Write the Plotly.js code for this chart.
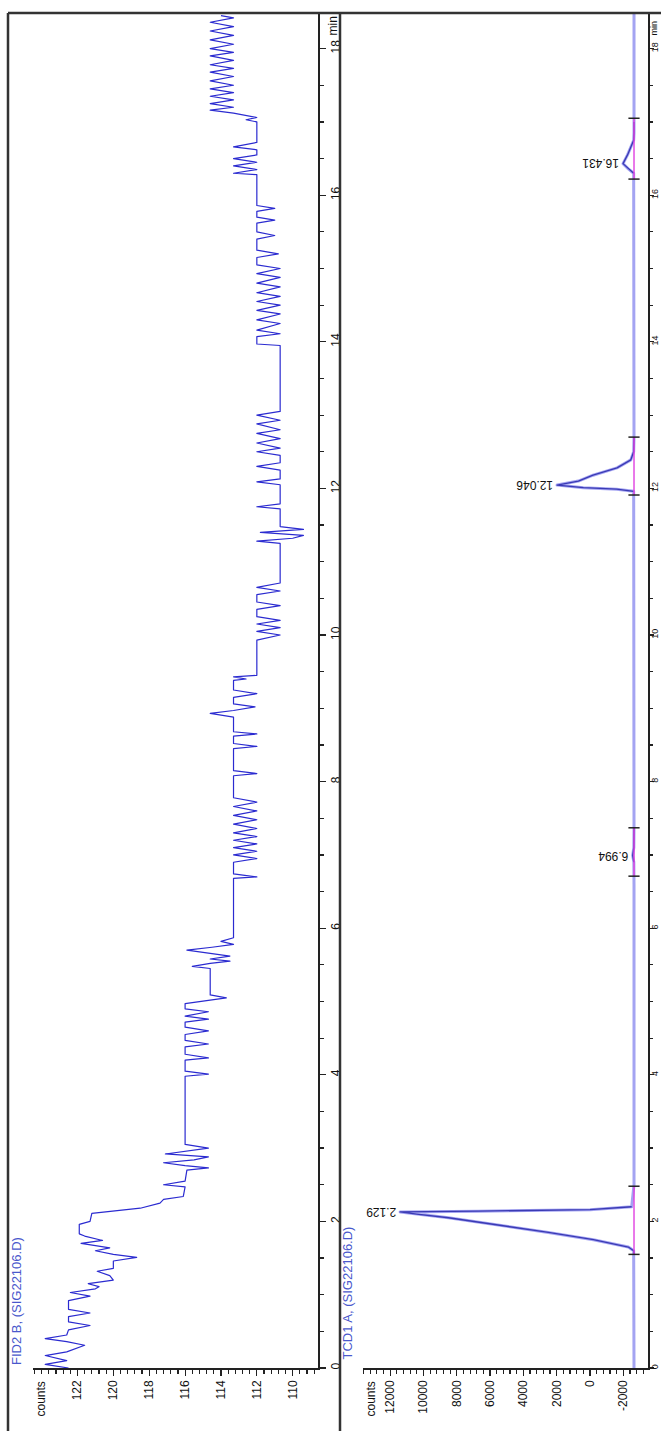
<!DOCTYPE html>
<html>
<head>
<meta charset="utf-8">
<script src="https://cdn.plot.ly/plotly-3.0.1.min.js"></script>
<style>html,body{margin:0;padding:0;background:#fff;}#chart{width:661px;height:1431px;}
#chart path.js-line{stroke-linejoin:round !important;}</style>
</head>
<body>
<div id="chart"></div>
<script>
// ---------- DATA ----------
const fidTitle = "FID2 B, (SIG22106.D)";
const tcdTitle = "TCD1 A, (SIG22106.D)";
const timeTickVals = [0, 2, 4, 6, 8, 10, 12, 14, 16, 18];
const timeTickText = ["0", "2", "4", "6", "8", "10", "12", "14", "16", "18"];
const fidTickVals = [110, 112, 114, 116, 118, 120, 122];
const fidTickText = ["110", "112", "114", "116", "118", "120", "122"];
const tcdTickVals = [-2000, 0, 2000, 4000, 6000, 8000, 10000, 12000];
const tcdTickText = ["-2000", "0", "2000", "4000", "6000", "8000", "10000", "12000"];

const fidTime = [0.00,0.05,0.10,0.17,0.22,0.31,0.36,0.40,0.45,0.52,0.58,0.63,0.70,0.75,0.80,0.92,0.98,1.03,1.08,1.11,1.15,1.20,1.26,1.32,1.36,1.46,1.51,1.55,1.60,1.64,1.70,1.74,1.80,1.83,1.96,2.00,2.11,2.18,2.25,2.30,2.34,2.47,2.50,2.55,2.70,2.73,2.76,2.80,2.84,2.88,2.92,2.96,3.00,3.05,3.98,4.01,4.05,4.20,4.23,4.28,4.38,4.42,4.47,4.55,4.60,4.65,4.72,4.76,4.80,4.86,4.90,4.97,5.01,5.05,5.09,5.45,5.48,5.52,5.55,5.58,5.62,5.66,5.70,5.74,5.78,5.82,5.87,6.68,6.70,6.74,6.90,6.95,7.00,7.05,7.10,7.15,7.20,7.25,7.30,7.36,7.42,7.48,7.54,7.60,7.66,7.72,7.78,8.08,8.11,8.15,8.45,8.48,8.52,8.62,8.65,8.68,8.88,8.93,8.97,9.02,9.06,9.15,9.20,9.25,9.38,9.40,9.43,9.45,9.93,10.00,10.05,10.10,10.15,10.20,10.25,10.35,10.40,10.45,10.55,10.60,10.65,10.71,11.25,11.28,11.32,11.36,11.40,11.44,11.48,11.72,11.75,11.79,12.05,12.09,12.13,12.25,12.30,12.35,12.45,12.50,12.55,12.62,12.68,12.75,12.80,12.88,12.93,13.00,13.05,13.95,13.97,14.07,14.11,14.16,14.25,14.30,14.38,14.43,14.50,14.55,14.62,14.67,14.75,14.80,14.88,14.93,15.00,15.05,15.15,15.20,15.25,15.40,15.45,15.50,15.62,15.66,15.70,15.78,15.82,15.86,16.28,16.30,16.35,16.40,16.45,16.50,16.55,16.62,16.66,16.72,17.00,17.03,17.06,17.12,17.16,17.20,17.25,17.30,17.35,17.40,17.45,17.50,17.56,17.62,17.68,17.73,17.78,17.84,17.90,17.95,18.00,18.06,18.12,18.18,18.24,18.30,18.36,18.42,18.45];
const fidCounts = [122.5,123.8,122.6,123.8,122.6,121.6,122.6,123.8,122.6,122.5,121.3,122.5,122.5,121.3,122.5,122.5,121.3,122.4,121.0,120.8,121.4,120.0,120.2,120.9,120.0,120.0,118.7,120.0,121.0,120.2,121.8,120.6,121.6,121.9,121.9,121.3,121.2,118.5,117.4,117.2,116.1,116.0,117.2,116.0,115.9,114.7,116.0,117.2,115.5,114.7,117.1,116.0,114.7,116.0,116.0,114.7,116.0,116.0,114.7,116.0,116.0,114.7,116.0,116.0,114.7,116.0,116.0,114.7,116.0,114.7,116.0,116.0,114.7,113.7,114.6,114.6,115.6,114.6,113.5,114.6,113.5,114.6,115.9,114.5,113.3,114.0,113.3,113.3,112.0,113.3,113.3,112.0,113.3,112.0,113.3,112.0,113.3,112.0,113.3,112.0,113.3,112.0,113.3,112.0,113.3,112.0,113.3,113.3,112.0,113.3,113.3,112.0,113.3,113.3,112.0,113.3,113.3,114.6,113.3,112.1,113.3,113.3,112.0,113.3,113.3,112.6,113.3,112.0,112.0,110.7,112.0,110.7,112.0,110.7,112.0,112.0,110.7,112.0,112.0,110.7,112.0,110.7,110.7,112.0,110.0,109.4,111.8,109.4,110.7,110.7,112.0,110.7,110.7,112.0,110.7,110.7,112.0,110.7,110.7,112.0,110.7,112.0,110.7,112.0,110.7,112.0,110.7,112.0,110.7,110.7,112.0,112.0,110.7,112.0,110.7,112.0,110.7,112.0,110.7,112.0,110.7,112.0,110.7,112.0,110.7,112.0,110.7,112.0,112.0,110.8,112.0,112.0,111.0,112.0,112.0,111.0,112.0,112.0,111.0,112.0,112.0,113.3,112.0,113.3,112.0,113.3,112.0,112.0,113.3,112.0,112.0,112.6,112.0,113.3,114.6,113.3,114.6,113.3,114.6,113.3,114.6,113.3,114.6,113.3,114.6,113.3,114.6,113.3,114.6,113.3,114.6,113.3,114.6,113.3,114.6,113.3,114.6,113.3,114.0];

const tcdTime = [0,1.55,1.60,1.65,1.75,1.85,1.95,2.05,2.10,2.129,2.14,2.16,2.20,2.50,6.60,6.90,6.994,7.10,7.37,11.90,11.96,11.99,12.01,12.046,12.10,12.18,12.28,12.39,12.50,12.70,16.20,16.30,16.36,16.431,16.55,16.65,16.75,16.85,17.00,18.486];
const tcdCounts = [-2640,-2640,-2620,-2300,-200,2500,5400,8500,10400,11400,6700,0,-2500,-2640,-2640,-2630,-2560,-2630,-2640,-2640,-2620,-1600,400,1980,700,-180,-1620,-2450,-2620,-2640,-2640,-2620,-2300,-1980,-2250,-2450,-2620,-2640,-2640,-2640];

const peakRT = [2.129, 6.994, 12.046, 16.431];
const peakStart = [1.55, 6.71, 11.91, 16.22];
const peakEnd = [2.48, 7.37, 12.70, 17.05];
const tcdBaseline = -2640;

// ---------- BUILD ----------
const W = 661, H = 1431;
const px = v => v / W;
const py = v => 1 - v / H;

const traces = [];
traces.push({x: fidCounts, y: fidTime, xaxis: 'x', yaxis: 'y', mode: 'lines',
  line: {color: '#2b2bd0', width: 1.2}, hoverinfo: 'skip'});
traces.push({x: tcdCounts, y: tcdTime, xaxis: 'x2', yaxis: 'y2', mode: 'lines',
  line: {color: '#a4a4f2', width: 3}, hoverinfo: 'skip'});

const annotations = [];
const labelFont = {family: 'Liberation Sans, Arial, sans-serif', size: 12, color: '#111'};

peakRT.forEach((rt, i) => {
  const px_ = [], py_ = [];
  tcdTime.forEach((t, j) => { if (t >= peakStart[i] && t <= peakEnd[i]) { px_.push(tcdCounts[j]); py_.push(t); } });
  traces.push({x: px_, y: py_, xaxis: 'x2', yaxis: 'y2', mode: 'lines',
    line: {color: '#3a3ab4', width: 1.3}, hoverinfo: 'skip'});
  traces.push({x: [tcdBaseline, tcdBaseline], y: [peakStart[i], peakEnd[i]], xaxis: 'x2', yaxis: 'y2', mode: 'lines',
    line: {color: '#e040e0', width: 1.4}, hoverinfo: 'skip'});
  traces.push({x: [tcdBaseline, tcdBaseline], y: [peakStart[i], peakEnd[i]], xaxis: 'x2', yaxis: 'y2', mode: 'markers',
    marker: {symbol: 'line-ew', size: 8, line: {color: '#222', width: 1.5}}, hoverinfo: 'skip'});
  const apex = Math.max(...px_);
  annotations.push({x: apex, y: rt, xref: 'x2', yref: 'y2', text: rt.toFixed(3), showarrow: false,
    textangle: 180, xanchor: 'right', yanchor: 'middle', xshift: -2, font: labelFont});
});

const axFont = {family: 'Liberation Sans, Arial, sans-serif', size: 12, color: '#111'};
const smallFont = {family: 'Liberation Sans, Arial, sans-serif', size: 9, color: '#111'};
const commonX = {showgrid: false, zeroline: false, showline: true, linecolor: '#222', linewidth: 1.5,
  ticks: 'outside', ticklen: 6, tickwidth: 1.2, tickcolor: '#222', tickangle: -90, tickfont: axFont,
  tickmode: 'array', fixedrange: true};
const commonY = {showgrid: false, zeroline: false, showline: true, linecolor: '#222', linewidth: 1.5,
  ticks: 'outside', ticklen: 6, tickwidth: 1.2, tickcolor: '#222', tickangle: -90, tickfont: axFont,
  side: 'right', tickmode: 'array', tickvals: timeTickVals, ticktext: timeTickText,
  range: [0, 18.486], domain: [py(1368), py(13)],
  minor: {tickmode: 'linear', tick0: 0, dtick: 0.5, ticklen: 4, tickcolor: '#222', ticks: 'outside'}};

const layout = {
  width: W, height: H, margin: {l: 0, r: 0, t: 0, b: 0},
  paper_bgcolor: '#fff', plot_bgcolor: '#fff', showlegend: false,
  xaxis: Object.assign({}, commonX, {domain: [px(33), px(318)], range: [124.48, 108.59], anchor: 'y',
    tickvals: fidTickVals, ticktext: fidTickText,
    minor: {tickmode: 'linear', tick0: 110, dtick: 0.4, ticklen: 4, tickcolor: '#222', ticks: 'outside'}}),
  yaxis: Object.assign({}, commonY, {anchor: 'x'}),
  xaxis2: Object.assign({}, commonX, {domain: [px(363), px(648)], range: [13630, -3480], anchor: 'y2',
    tickvals: tcdTickVals, ticktext: tcdTickText,
    minor: {tickmode: 'linear', tick0: 0, dtick: 400, ticklen: 4, tickcolor: '#222', ticks: 'outside'}}),
  yaxis2: Object.assign({}, commonY, {anchor: 'x2', ticklen: 4, ticklabelstandoff: -6, tickfont: smallFont,
    minor: {tickmode: 'linear', tick0: 0, dtick: 0.5, ticklen: 3, tickcolor: '#222', ticks: 'outside'}}),
  annotations: annotations.concat([
    {x: px(16), y: py(1367), xref: 'paper', yref: 'paper', text: fidTitle, textangle: -90, showarrow: false,
      xanchor: 'center', yanchor: 'bottom', font: {family: 'Liberation Sans, Arial, sans-serif', size: 13, color: '#4a58cc'}},
    {x: px(347), y: py(1362), xref: 'paper', yref: 'paper', text: tcdTitle, textangle: -90, showarrow: false,
      xanchor: 'center', yanchor: 'bottom', font: {family: 'Liberation Sans, Arial, sans-serif', size: 13, color: '#4a58cc'}},
    {x: px(40), y: py(1380), xref: 'paper', yref: 'paper', text: 'counts', textangle: -90, showarrow: false,
      xanchor: 'center', yanchor: 'top', font: axFont},
    {x: px(370), y: py(1380), xref: 'paper', yref: 'paper', text: 'counts', textangle: -90, showarrow: false,
      xanchor: 'center', yanchor: 'top', font: axFont},
    {x: px(333), y: py(38), xref: 'paper', yref: 'paper', text: 'min', textangle: -90, showarrow: false,
      xanchor: 'center', yanchor: 'bottom', font: axFont},
    {x: px(654), y: py(38), xref: 'paper', yref: 'paper', text: 'min', textangle: -90, showarrow: false,
      xanchor: 'center', yanchor: 'bottom', font: smallFont}
  ]),
  shapes: [
    {type: 'line', xref: 'paper', yref: 'paper', x0: px(8), x1: 1, y0: py(13), y1: py(13), line: {color: '#333', width: 2.5}},
    {type: 'line', xref: 'paper', yref: 'paper', x0: px(8), x1: px(8), y0: py(13), y1: 0, line: {color: '#333', width: 2.5}},
    {type: 'line', xref: 'paper', yref: 'paper', x0: px(340), x1: px(340), y0: py(13), y1: 0, line: {color: '#333', width: 2.5}}
  ]
};

Plotly.newPlot('chart', traces, layout, {staticPlot: true, displayModeBar: false});
</script>
</body>
</html>
